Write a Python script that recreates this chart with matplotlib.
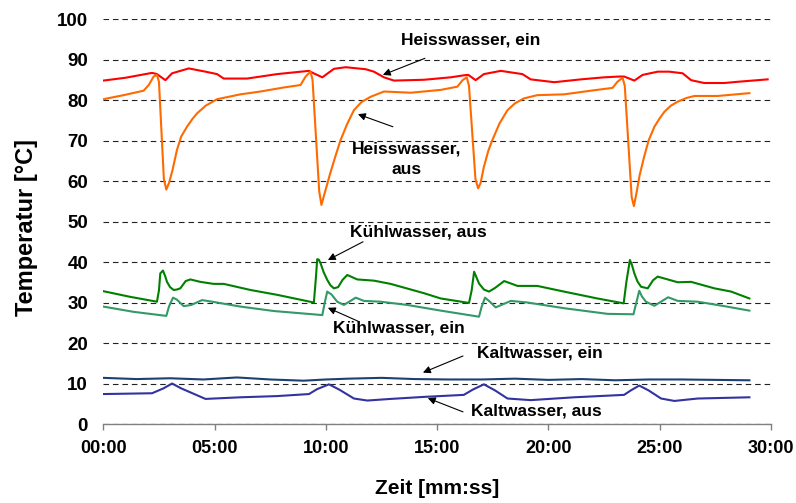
import matplotlib
matplotlib.use("Agg")
import matplotlib.pyplot as plt

plt.rcParams['font.family'] = ['Liberation Sans', 'DejaVu Sans']
plt.rcParams['font.weight'] = 'bold'

# Zeit in Minuten, Temperaturen in °C
t_heiss_ein = [0, 1.0, 2.19, 2.41, 2.79, 3.09, 3.84, 4.59, 5.11, 5.41, 6.46, 7.81, 9.24, 9.45, 9.84,
               10.36, 10.89, 11.79, 12.16, 12.61, 13.06, 14.41, 15.6, 16.2, 16.4, 16.73, 17.1, 17.86,
               18.46, 18.83, 19.2, 20.26, 21.46, 22.5, 23.18, 23.4, 23.86, 24.23, 24.91, 25.43, 26.03,
               26.41, 27.0, 27.9, 28.5, 29.85]
heiss_ein = [84.8, 85.5, 86.7, 86.4, 84.9, 86.6, 87.8, 87.0, 86.4, 85.3, 85.3, 86.4, 87.2, 86.6, 85.6,
             87.7, 88.1, 87.6, 87.0, 85.6, 84.8, 85.0, 85.6, 86.1, 86.2, 84.9, 86.4, 87.2,
             86.7, 86.4, 85.1, 84.4, 85.1, 85.6, 85.8, 85.8, 84.8, 86.2, 87.0, 87.0, 86.6,
             84.9, 84.2, 84.2, 84.5, 85.1]

t_heiss_aus = [0, 0.91, 1.81, 2.04, 2.26, 2.41, 2.50, 2.72, 2.83, 2.95, 3.1, 3.31, 3.5, 3.76, 4.0,
               4.21, 4.6, 5.11, 6.16, 7.06, 8.11, 8.86, 9.09, 9.31, 9.40, 9.70, 9.80, 9.92, 10.2,
               10.45, 10.66, 10.95, 11.26, 11.6, 12.01, 12.61, 13.81, 15.16, 15.91, 16.14, 16.33,
               16.43, 16.72, 16.84, 16.95, 17.1, 17.3, 17.48, 17.8, 18.16, 18.5, 18.9, 19.5, 20.7,
               21.9, 22.88, 23.1, 23.33, 23.43, 23.74, 23.84, 23.97, 24.1, 24.3, 24.5, 24.76, 25.0,
               25.21, 25.5, 25.81, 26.2, 26.56, 27.61, 29.03]
heiss_aus = [80.2, 81.2, 82.3, 83.7, 85.8, 86.2, 84.5, 60.5, 57.9, 59.5, 62.5, 67.7, 71.0, 73.4, 75.3,
             76.7, 78.6, 80.2, 81.4, 82.1, 83.1, 83.7, 85.8, 87.0, 85.0, 57.5, 54.1, 56.5, 62.0,
             66.5, 70.1, 74.0, 77.5, 79.5, 80.8, 82.1, 81.8, 82.5, 83.3, 84.9, 85.6,
             83.5, 60.5, 58.2, 59.5, 63.5, 67.5, 70.1, 74.2, 77.5, 79.2, 80.4, 81.2, 81.4,
             82.3, 83.0, 84.5, 85.5, 83.5, 56.0, 53.8, 57.5, 61.5, 66.0, 70.0, 73.4, 75.5,
             77.1, 78.6, 79.6, 80.5, 81.0, 81.0, 81.7]

t_kuehl_aus = [0, 1.21, 2.41, 2.5, 2.56, 2.68, 2.78, 2.86, 3.0, 3.16, 3.3, 3.46, 3.7, 3.91, 4.36,
               4.96, 5.41, 6.61, 7.81, 9.46, 9.55, 9.61, 9.68, 9.76, 9.9, 10.06, 10.2, 10.36, 10.55,
               10.75, 10.96, 11.41, 12.16, 12.91, 14.41, 15.16, 16.43, 16.55, 16.66, 16.76, 16.88,
               17.1, 17.33, 17.6, 18.01, 18.61, 19.5, 20.7, 22.2, 23.38, 23.5, 23.66, 23.75, 23.86,
               24.0, 24.16, 24.46, 24.7, 24.91, 25.81, 26.41, 27.46, 28.21, 29.03]
kuehl_aus = [32.8, 31.4, 30.2, 33.0, 37.2, 37.9, 36.5, 35.1, 33.8, 33.1, 33.2, 33.5, 35.3, 35.7, 35.1,
             34.6, 34.6, 33.1, 31.9, 30.0, 36.0, 40.7, 40.6, 39.7, 37.5, 35.6, 34.3, 33.5, 33.8,
             35.6, 36.8, 35.7, 35.4, 34.6, 32.3, 31.0, 29.9, 33.0, 37.6, 36.3, 34.7,
             33.2, 32.7, 33.6, 35.3, 34.1, 34.1, 32.7, 31.0, 29.8, 35.0, 40.5, 39.3, 37.2,
             35.2, 33.9, 33.5, 35.5, 36.4, 35.0, 35.1, 33.5, 32.7, 31.0]

t_kuehl_ein = [0, 1.36, 2.83, 2.95, 3.13, 3.31, 3.61, 3.95, 4.44, 5.11, 6.16, 7.66, 9.84, 9.95, 10.06,
               10.25, 10.51, 10.81, 11.34, 11.71, 12.46, 13.66, 15.16, 16.88, 17.0, 17.15, 17.35, 17.63,
               18.31, 19.06, 20.7, 22.66, 23.82, 23.95, 24.08, 24.2, 24.38, 24.76, 25.38, 25.81, 26.71,
               27.91, 29.03]
kuehl_ein = [29.0, 27.7, 26.7, 29.0, 31.2, 30.7, 29.1, 29.4, 30.6, 30.0, 29.0, 27.9, 26.9, 30.0, 32.7,
             32.0, 30.2, 29.4, 31.2, 30.4, 30.2, 29.4, 28.0, 26.5, 29.0, 31.2, 30.3, 28.8,
             30.4, 30.0, 28.6, 27.2, 27.1, 30.0, 32.9, 31.5, 30.2, 29.2, 31.3, 30.4, 30.2,
             29.1, 28.0]

t_kalt_ein = [0, 1.5, 3.0, 4.5, 6.0, 7.5, 9.0, 10.0, 11.0, 12.5, 14.0, 15.5, 17.0, 18.5, 20.0, 21.5,
              23.0, 24.5, 26.0, 27.5, 29.03]
kalt_ein = [11.4, 11.1, 11.3, 11.0, 11.5, 11.0, 10.7, 11.0, 11.2, 11.4, 11.1, 11.0, 11.0, 11.2, 10.9,
            11.1, 10.8, 11.0, 11.0, 10.9, 10.8]

t_kalt_aus = [0, 2.19, 2.7, 3.09, 3.5, 4.59, 6.16, 7.81, 9.24, 9.6, 10.14, 10.6, 11.26, 11.86, 12.91,
              14.41, 16.2, 16.6, 17.1, 17.6, 18.16, 19.2, 21.15, 23.4, 23.7, 24.08, 24.5, 25.06, 25.66,
              26.71, 29.03]
kalt_aus = [7.4, 7.6, 8.8, 10.0, 8.8, 6.2, 6.6, 6.9, 7.4, 8.6, 9.8, 8.5, 6.3, 5.8, 6.2,
            6.7, 7.2, 8.5, 9.8, 8.3, 6.3, 5.9, 6.6, 7.2, 8.3, 9.5, 8.3, 6.3, 5.7,
            6.3, 6.6]

x_ticks = [0, 5, 10, 15, 20, 25, 30]
x_ticklabels = ['00:00', '05:00', '10:00', '15:00', '20:00', '25:00', '30:00']
y_ticks = list(range(0, 101, 10))

fig = plt.figure(figsize=(7.96, 5.03), dpi=100)
ax = fig.add_axes([0.1298, 0.157, 0.8388, 0.8052])

lw = 1.5
ax.plot(t_heiss_ein, heiss_ein, color='#ff0000', lw=lw)
ax.plot(t_heiss_aus, heiss_aus, color='#ff6a00', lw=lw)
ax.plot(t_kuehl_aus, kuehl_aus, color='#008000', lw=lw)
ax.plot(t_kuehl_ein, kuehl_ein, color='#339966', lw=lw)
ax.plot(t_kalt_ein, kalt_ein, color='#1f3f73', lw=lw)
ax.plot(t_kalt_aus, kalt_aus, color='#3333a0', lw=lw)

ax.set_xlim(0, 30)
ax.set_ylim(0, 100)
ax.set_xticks(x_ticks)
ax.set_xticklabels(x_ticklabels)
ax.set_yticks(y_ticks)
ax.tick_params(axis='x', direction='out', length=4.5, width=1, color='#808080',
               labelsize=13, pad=7)
ax.tick_params(axis='y', length=0, labelsize=13.5, pad=11)

for s in ['top', 'right', 'left']:
    ax.spines[s].set_visible(False)
ax.spines['bottom'].set_color('#808080')
ax.spines['bottom'].set_linewidth(1)

ax.grid(axis='y', color='#222222', linestyle=(0, (5, 3.5)), linewidth=0.8)
ax.set_axisbelow(True)

ax.set_xlabel('Zeit [mm:ss]', fontsize=15, fontweight='bold')
ax.xaxis.set_label_coords(0.5, -0.135)
ax.set_ylabel('Temperatur [°C]', fontsize=17, fontweight='bold')
ax.yaxis.set_label_coords(-0.098, 0.485)

# Beschriftungen mit Pfeilen: (Text, Textposition, Pfeilanfang, Pfeilspitze)
labels = [
    ('Heisswasser, ein', (16.52, 94.8), (14.45, 90.3), (12.56, 86.2)),
    ('Heisswasser,\naus', (13.64, 65.4), (13.01, 73.4), (11.44, 76.5)),
    ('Kühlwasser, aus', (14.14, 47.5), (11.67, 45.0), (10.09, 40.5)),
    ('Kühlwasser, ein', (13.26, 23.7), (11.44, 25.4), (10.09, 28.7)),
    ('Kaltwasser, ein', (19.6, 17.6), (16.16, 16.8), (14.36, 12.7)),
    ('Kaltwasser, aus', (19.44, 3.2), (16.16, 3.0), (14.58, 6.4)),
]
for txt, pos, tail, head in labels:
    ax.text(pos[0], pos[1], txt, ha='center', va='center', fontsize=12.5,
            fontweight='bold', linespacing=1.45)
    ax.annotate('', xy=head, xytext=tail,
                arrowprops=dict(arrowstyle='-|>', color='black', lw=0.8,
                                mutation_scale=11, shrinkA=0, shrinkB=0))

fig.savefig('out.png', dpi=100)
